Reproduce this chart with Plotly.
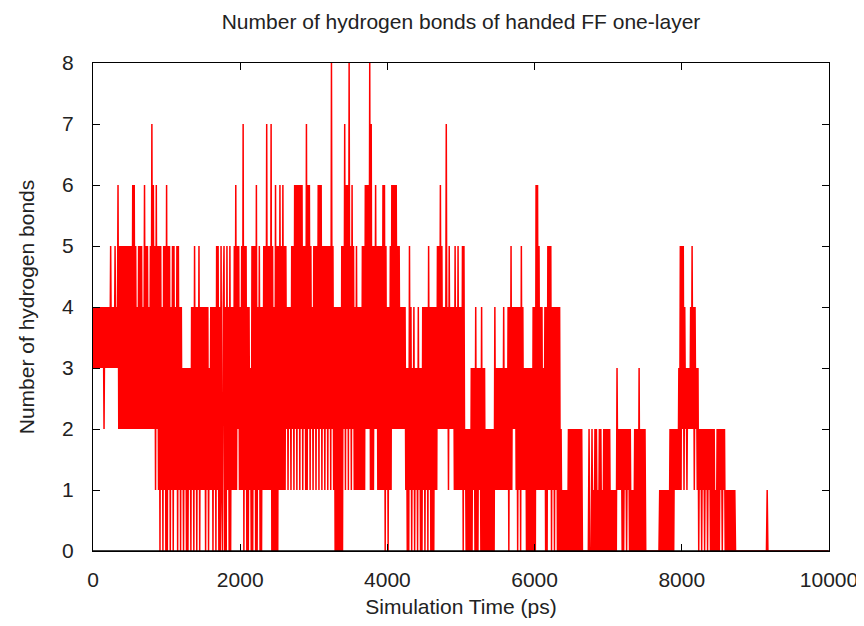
import plotly.graph_objects as go

# ---- data ----
chart_title = "Number of hydrogen bonds of handed FF one-layer"
x_axis_title = "Simulation Time (ps)"
y_axis_title = "Number of hydrogen bonds"
x_tick_values = [0, 2000, 4000, 6000, 8000, 10000]
y_tick_values = [0, 1, 2, 3, 4, 5, 6, 7, 8]
time_step_ps = 10

# hydrogen-bond counts, one string per 100 ps (10 samples, 10 ps apart)
hbond_0_1000ps = [
    "4343434343", "4343424343", "4343534343", "5343625252", "5252525252",
    "5252626252", "4252525242", "6252524252", "7262516251", "5051405150",
]
hbond_1000_2000ps = [
    "6051504150", "5141505140", "4130313030", "3130414051", "4041504141",
    "4140414031", "4140414051", "5040510450", "4051405041", "4151615251",
]
hbond_2000_3000ps = [
    "4151705150", "4041305051", "5060415040", "4151517151", "5170504060",
    "5051615161", "5152414241", "5251626162", "6162615251", "7162615241",
]
hbond_3000_4000ps = [
    "5251526162", "6152515251", "5251825140", "4040404050", "5271626182",
    "5162514151", "4141415151", "6262628171", "5152625151", "5151616051",
]
hbond_4000_5000ps = [
    "4041516262", "6262525242", "4242413030", "5140314031", "3041303041",
    "4041405140", "4040414152", "5262524242", "7241524242", "4151415141",
]
hbond_5000_6000ps = [
    "4150512020", "2020303130", "4030313040", "3030202020", "2020204131",
    "3131313141", "3131404151", "4242414041", "4051413130", "3030303040",
]
hbond_6000_7000ps = [
    "4061615141", "4131404051", "5150414041", "4040402010", "1010102020",
    "2020202020", "2020200000", "0000200020", "1020201020", "2010202020",
]
hbond_7000_8000ps = [
    "2020101010", "1031212120", "2021202120", "2010102020", "2030202020",
    "2000000000", "0000000000", "1010101010", "1010202020", "2121213151",
]
hbond_8000_9000ps = [
    "5251423132", "3242524142", "3130212021", "2021202120", "2020201020",
    "2021202120", "1010101010", "1010000000", "0000000000", "0000000000",
]
hbond_9000_10000ps = [
    "0000000000", "0000001000", "0000000000", "0000000000", "0000000000",
    "0000000000", "0000000000", "0000000000", "0000000000", "0000000000",
]

all_chunks = (hbond_0_1000ps + hbond_1000_2000ps + hbond_2000_3000ps +
              hbond_3000_4000ps + hbond_4000_5000ps + hbond_5000_6000ps +
              hbond_6000_7000ps + hbond_7000_8000ps + hbond_8000_9000ps +
              hbond_9000_10000ps)
hbond_counts = [int(ch) for chunk in all_chunks for ch in chunk]
time_ps = [i * time_step_ps for i in range(len(hbond_counts))]

# ---- figure ----
FONT = "Liberation Sans, Arial, sans-serif"
TXT = "#222222"
fig = go.Figure(
    go.Scatter(
        x=time_ps, y=hbond_counts, mode="lines",
        line=dict(color="#ff0000", width=1.5, simplify=False),
        showlegend=False, hoverinfo="skip",
    )
)

axis_common = dict(
    showline=True, linecolor="#000000", linewidth=1, mirror="ticks",
    ticks="inside", ticklen=7, tickcolor="#000000", tickwidth=1,
    showgrid=False, zeroline=False, automargin=False,
    tickfont=dict(family=FONT, size=21, color=TXT),
)

fig.update_layout(
    width=864, height=626,
    margin=dict(l=85, r=43, t=55, b=83),
    paper_bgcolor="#ffffff", plot_bgcolor="#ffffff",
    font=dict(family=FONT, size=21, color=TXT),
    title=dict(
        text=chart_title, x=0.5, xref="paper", xanchor="center",
        y=1 - 14 / 626, yref="container", yanchor="middle",
        font=dict(family=FONT, size=21, color=TXT),
    ),
    xaxis=dict(
        range=[0, 10000], tickvals=x_tick_values,
        ticktext=[str(v) for v in x_tick_values],
        ticklabelstandoff=10,
        title=dict(text=x_axis_title, standoff=9,
                   font=dict(family=FONT, size=21, color=TXT)),
        **axis_common,
    ),
    yaxis=dict(
        range=[0, 8], tickvals=y_tick_values,
        ticktext=[str(v) for v in y_tick_values],
        ticklabelstandoff=14,
        title=dict(text=y_axis_title, standoff=21,
                   font=dict(family=FONT, size=21, color=TXT)),
        **axis_common,
    ),
    shapes=[dict(type="line", xref="paper", yref="paper",
                 x0=0, x1=1, y0=0, y1=0, layer="above",
                 line=dict(color="#000000", width=1.5))],
)

fig.write_html("out.html")
